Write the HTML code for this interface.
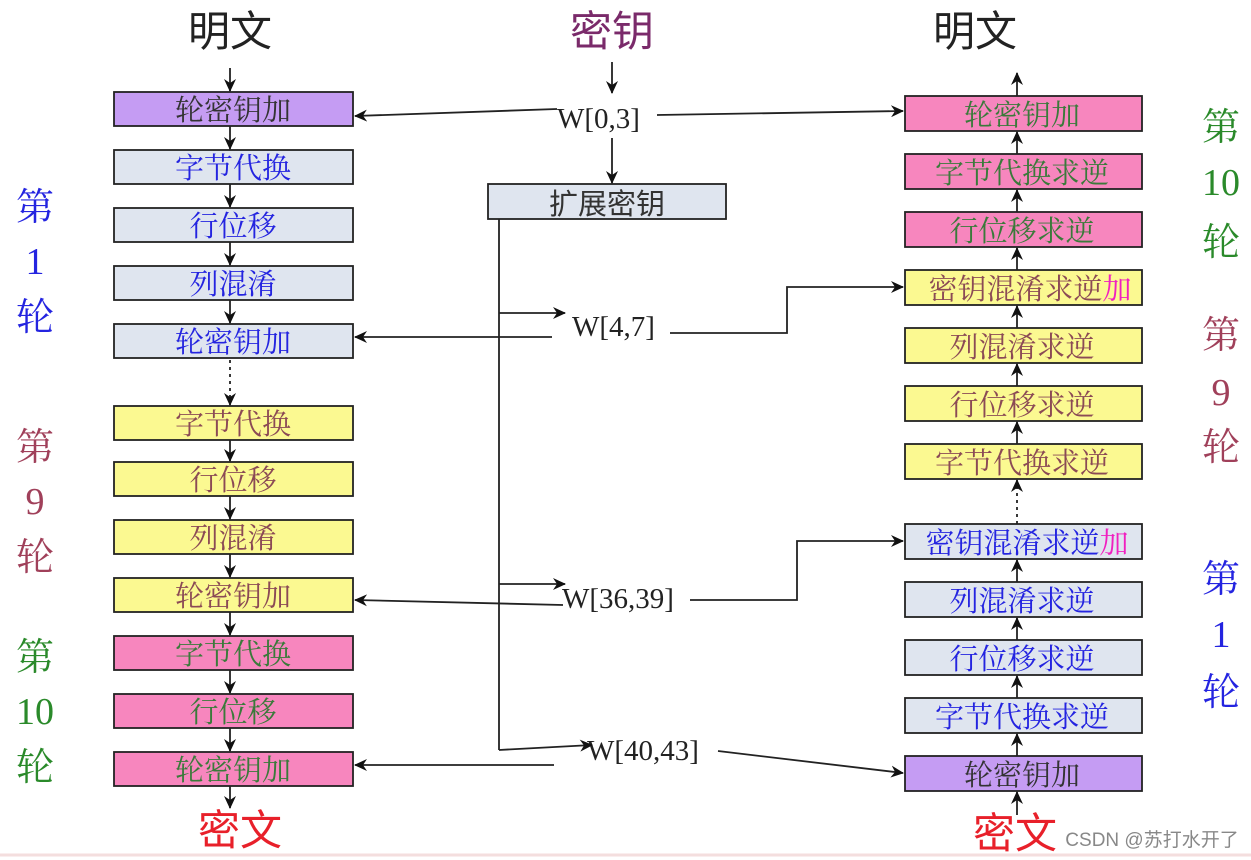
<!DOCTYPE html>
<html><head><meta charset="utf-8"><style>
html,body{margin:0;padding:0;background:#fff;}
svg{display:block;}
text{font-family:"Liberation Serif","Noto Serif CJK SC","Noto Sans CJK SC",serif;}
.b{stroke:#222;stroke-width:1.8;}
.t{font-size:29px;text-anchor:middle;font-family:"Liberation Sans","Noto Sans CJK SC",sans-serif;}
.w{font-size:29px;font-family:"Liberation Serif",serif;fill:#222;}
.l{font-size:38px;text-anchor:middle;font-family:"Liberation Sans","Noto Sans CJK SC",sans-serif;}
.ln{stroke:#222;stroke-width:1.8;fill:none;}
</style></head><body>
<svg width="1251" height="860" viewBox="0 0 1251 860" xmlns="http://www.w3.org/2000/svg">
<defs>
<marker id="a" markerWidth="14" markerHeight="12" refX="12" refY="6" orient="auto" markerUnits="userSpaceOnUse">
<path d="M0,0 L13,6 L0,12 L4,6 Z" fill="#111"/></marker>
</defs>
<rect x="0" y="0" width="1251" height="860" fill="#fff"/>
<line x1="0" y1="855" x2="1251" y2="855" stroke="#f4dede" stroke-width="3"/>

<!-- titles -->
<text x="230" y="46" class="l" style="font-size:42px" fill="#222">明文</text>
<text x="612" y="46" class="l" style="font-size:42px" fill="#7a2a6a">密钥</text>
<text x="975" y="46" class="l" style="font-size:42px" fill="#222">明文</text>
<text x="240" y="845" class="l" style="font-size:42px" fill="#e8202a">密文</text>
<text x="1015" y="848" class="l" style="font-size:42px" fill="#e8202a">密文</text>
<text x="1152" y="846" style="font-size:19px;font-family:'Liberation Sans','Noto Sans CJK SC',sans-serif" text-anchor="middle" fill="#888">CSDN @苏打水开了</text>

<!-- left column boxes -->
<g class="b">
<rect x="114" y="92" width="239" height="34" fill="#c59cf3"/>
<rect x="114" y="150" width="239" height="34" fill="#dfe5ef"/>
<rect x="114" y="208" width="239" height="34" fill="#dfe5ef"/>
<rect x="114" y="266" width="239" height="34" fill="#dfe5ef"/>
<rect x="114" y="324" width="239" height="34" fill="#dfe5ef"/>
<rect x="114" y="406" width="239" height="34" fill="#fbf991"/>
<rect x="114" y="462" width="239" height="34" fill="#fbf991"/>
<rect x="114" y="520" width="239" height="34" fill="#fbf991"/>
<rect x="114" y="578" width="239" height="34" fill="#fbf991"/>
<rect x="114" y="636" width="239" height="34" fill="#f786be"/>
<rect x="114" y="694" width="239" height="34" fill="#f786be"/>
<rect x="114" y="752" width="239" height="34" fill="#f786be"/>
</g>
<g class="t">
<text x="233" y="120" fill="#333">轮密钥加</text>
<text x="233" y="178" fill="#2424e0">字节代换</text>
<text x="233" y="236" fill="#2424e0">行位移</text>
<text x="233" y="294" fill="#2424e0">列混淆</text>
<text x="233" y="352" fill="#2424e0">轮密钥加</text>
<text x="233" y="434" fill="#8b4a55">字节代换</text>
<text x="233" y="490" fill="#8b4a55">行位移</text>
<text x="233" y="548" fill="#8b4a55">列混淆</text>
<text x="233" y="606" fill="#8b4a55">轮密钥加</text>
<text x="233" y="664" fill="#3a7a3a">字节代换</text>
<text x="233" y="722" fill="#3a7a3a">行位移</text>
<text x="233" y="780" fill="#3a7a3a">轮密钥加</text>
</g>
<!-- left vertical arrows -->
<g class="ln">
<line x1="230" y1="68" x2="230" y2="91" marker-end="url(#a)"/>
<line x1="230" y1="126" x2="230" y2="149" marker-end="url(#a)"/>
<line x1="230" y1="184" x2="230" y2="207" marker-end="url(#a)"/>
<line x1="230" y1="242" x2="230" y2="265" marker-end="url(#a)"/>
<line x1="230" y1="300" x2="230" y2="323" marker-end="url(#a)"/>
<line x1="230" y1="360" x2="230" y2="405" stroke-dasharray="3,4" marker-end="url(#a)"/>
<line x1="230" y1="440" x2="230" y2="461" marker-end="url(#a)"/>
<line x1="230" y1="496" x2="230" y2="519" marker-end="url(#a)"/>
<line x1="230" y1="554" x2="230" y2="577" marker-end="url(#a)"/>
<line x1="230" y1="612" x2="230" y2="635" marker-end="url(#a)"/>
<line x1="230" y1="670" x2="230" y2="693" marker-end="url(#a)"/>
<line x1="230" y1="728" x2="230" y2="751" marker-end="url(#a)"/>
<line x1="230" y1="786" x2="230" y2="808" marker-end="url(#a)"/>
</g>

<!-- right column boxes -->
<g class="b">
<rect x="905" y="96" width="237" height="35" fill="#f786be"/>
<rect x="905" y="154" width="237" height="35" fill="#f786be"/>
<rect x="905" y="212" width="237" height="35" fill="#f786be"/>
<rect x="905" y="270" width="237" height="35" fill="#fbf991"/>
<rect x="905" y="328" width="237" height="35" fill="#fbf991"/>
<rect x="905" y="386" width="237" height="35" fill="#fbf991"/>
<rect x="905" y="444" width="237" height="35" fill="#fbf991"/>
<rect x="905" y="524" width="237" height="35" fill="#dfe5ef"/>
<rect x="905" y="582" width="237" height="35" fill="#dfe5ef"/>
<rect x="905" y="640" width="237" height="35" fill="#dfe5ef"/>
<rect x="905" y="698" width="237" height="35" fill="#dfe5ef"/>
<rect x="905" y="756" width="237" height="35" fill="#c59cf3"/>
</g>
<g class="t">
<text x="1022" y="125" fill="#3a7a3a">轮密钥加</text>
<text x="1022" y="183" fill="#3a7a3a">字节代换求逆</text>
<text x="1022" y="241" fill="#3a7a3a">行位移求逆</text>
<text x="1030" y="299" fill="#8b4a55">密钥混淆求逆<tspan fill="#f020c0">加</tspan></text>
<text x="1022" y="357" fill="#8b4a55">列混淆求逆</text>
<text x="1022" y="415" fill="#8b4a55">行位移求逆</text>
<text x="1022" y="473" fill="#8b4a55">字节代换求逆</text>
<text x="1027" y="553" fill="#2424e0">密钥混淆求逆<tspan fill="#f020c0">加</tspan></text>
<text x="1022" y="611" fill="#2424e0">列混淆求逆</text>
<text x="1022" y="669" fill="#2424e0">行位移求逆</text>
<text x="1022" y="727" fill="#2424e0">字节代换求逆</text>
<text x="1022" y="785" fill="#333">轮密钥加</text>
</g>
<!-- right vertical arrows (up) -->
<g class="ln">
<line x1="1017" y1="96" x2="1017" y2="73" marker-end="url(#a)"/>
<line x1="1017" y1="154" x2="1017" y2="132" marker-end="url(#a)"/>
<line x1="1017" y1="212" x2="1017" y2="190" marker-end="url(#a)"/>
<line x1="1017" y1="270" x2="1017" y2="248" marker-end="url(#a)"/>
<line x1="1017" y1="328" x2="1017" y2="306" marker-end="url(#a)"/>
<line x1="1017" y1="386" x2="1017" y2="364" marker-end="url(#a)"/>
<line x1="1017" y1="444" x2="1017" y2="422" marker-end="url(#a)"/>
<line x1="1017" y1="524" x2="1017" y2="480" stroke-dasharray="3,4" marker-end="url(#a)"/>
<line x1="1017" y1="582" x2="1017" y2="560" marker-end="url(#a)"/>
<line x1="1017" y1="640" x2="1017" y2="618" marker-end="url(#a)"/>
<line x1="1017" y1="698" x2="1017" y2="676" marker-end="url(#a)"/>
<line x1="1017" y1="756" x2="1017" y2="734" marker-end="url(#a)"/>
<line x1="1017" y1="815" x2="1017" y2="792" marker-end="url(#a)"/>
</g>

<!-- key column -->
<rect x="488" y="184" width="238" height="35" fill="#dfe5ef" class="b"/>
<text x="607" y="214" class="t" fill="#333">扩展密钥</text>
<text x="557" y="128" class="w">W[0,3]</text>
<text x="572" y="336" class="w">W[4,7]</text>
<text x="562" y="608" class="w">W[36,39]</text>
<text x="587" y="760" class="w">W[40,43]</text>
<g class="ln">
<line x1="612" y1="62" x2="612" y2="93" marker-end="url(#a)"/>
<line x1="612" y1="138" x2="612" y2="183" marker-end="url(#a)"/>
<line x1="557" y1="109" x2="355" y2="116" marker-end="url(#a)"/>
<line x1="657" y1="115" x2="903" y2="111" marker-end="url(#a)"/>
<line x1="499" y1="219" x2="499" y2="750"/>
<line x1="499" y1="313" x2="565" y2="313" marker-end="url(#a)"/>
<line x1="552" y1="337" x2="355" y2="337" marker-end="url(#a)"/>
<polyline points="670,333 787,333 787,287 903,287" marker-end="url(#a)"/>
<line x1="499" y1="584" x2="565" y2="584" marker-end="url(#a)"/>
<line x1="563" y1="605" x2="355" y2="600" marker-end="url(#a)"/>
<polyline points="690,600 797,600 797,541 903,541" marker-end="url(#a)"/>
<line x1="499" y1="750" x2="592" y2="745" marker-end="url(#a)"/>
<line x1="554" y1="765" x2="355" y2="765" marker-end="url(#a)"/>
<line x1="718" y1="751" x2="903" y2="773" marker-end="url(#a)"/>
</g>

<!-- round labels left -->
<g class="l">
<text x="35" y="220" fill="#2424e0">第</text>
<text x="35" y="274" fill="#2424e0">1</text>
<text x="35" y="330" fill="#2424e0">轮</text>
<text x="35" y="460" fill="#a0405a">第</text>
<text x="35" y="514" fill="#a0405a">9</text>
<text x="35" y="570" fill="#a0405a">轮</text>
<text x="35" y="670" fill="#2a8a2a">第</text>
<text x="35" y="724" fill="#2a8a2a">10</text>
<text x="35" y="780" fill="#2a8a2a">轮</text>
<!-- right -->
<text x="1221" y="140" fill="#2a8a2a">第</text>
<text x="1221" y="195" fill="#2a8a2a">10</text>
<text x="1221" y="255" fill="#2a8a2a">轮</text>
<text x="1221" y="348" fill="#a0405a">第</text>
<text x="1221" y="405" fill="#a0405a">9</text>
<text x="1221" y="460" fill="#a0405a">轮</text>
<text x="1221" y="592" fill="#2424e0">第</text>
<text x="1221" y="647" fill="#2424e0">1</text>
<text x="1221" y="705" fill="#2424e0">轮</text>
</g>
</svg>
</body></html>
